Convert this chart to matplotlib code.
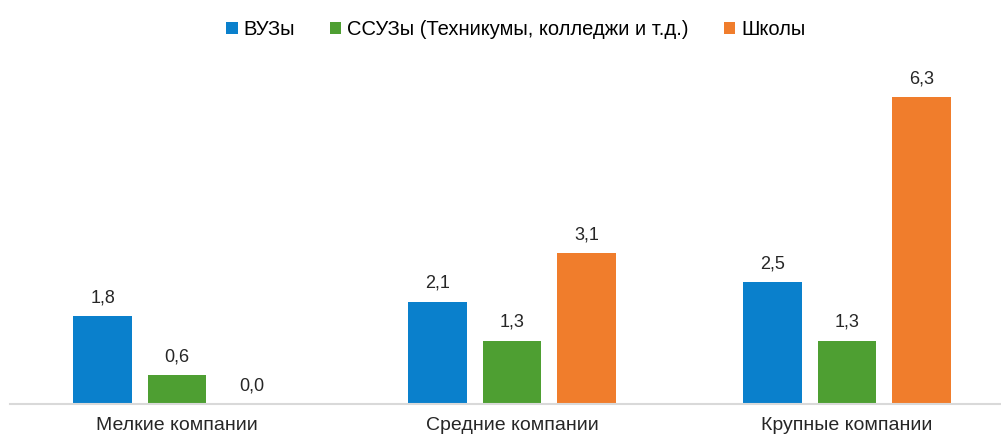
import matplotlib
matplotlib.use("Agg")
import matplotlib.pyplot as plt
import numpy as np
from matplotlib.patches import Patch

categories = ["Мелкие компании", "Средние компании", "Крупные компании"]
series_names = ["ВУЗы", "ССУЗы (Техникумы, колледжи и т.д.)", "Школы"]
vuz = [1.8, 2.1, 2.5]
ssuz = [0.6, 1.3, 1.3]
school = [0.0, 3.1, 6.3]
colors = ["#0A80CC", "#4E9F32", "#F07D2C"]

plt.rcParams['font.family'] = ['Liberation Sans', 'DejaVu Sans']

W, H = 1001, 437
fig = plt.figure(figsize=(W/100, H/100), dpi=100)
left_px, right_px = 9.5, 1014.5
base_px, top_px = 404, 63
ax = fig.add_axes([left_px/W, (H-base_px)/H, (right_px-left_px)/W, (base_px-top_px)/H])

x = np.arange(len(categories))
bw = 0.176
step = 0.222
for i, (vals, c) in enumerate(zip([vuz, ssuz, school], colors)):
    pos = x + (i-1)*step
    ax.bar(pos, vals, width=bw, color=c, zorder=2)
    for p, v in zip(pos, vals):
        ax.text(p, v + 0.2, f"{v:.1f}".replace(".", ","), ha="center", va="bottom",
                fontsize=13, color="#262626")

ax.set_xlim(-0.5, 2.5)
ax.set_ylim(0, 7)
ax.set_yticks([])
ax.set_xticks(x)
ax.set_xticklabels(categories, fontsize=14, color="#262626")
ax.tick_params(axis='x', length=0, pad=9)
for s in ["top", "right", "left"]:
    ax.spines[s].set_visible(False)
ax.spines["bottom"].set_color("#D9D9D9")
ax.spines["bottom"].set_linewidth(1.5)

handles = [Patch(facecolor=c, edgecolor='none') for c in colors]
fig.legend(handles, series_names, loc="upper center", bbox_to_anchor=(516/W, 1.0 - 6/H),
           ncol=3, frameon=False, fontsize=14.5, handlelength=0.55, handleheight=0.55,
           handletextpad=0.3, columnspacing=1.75, borderaxespad=0.3)

fig.savefig("out.png", dpi=100)
